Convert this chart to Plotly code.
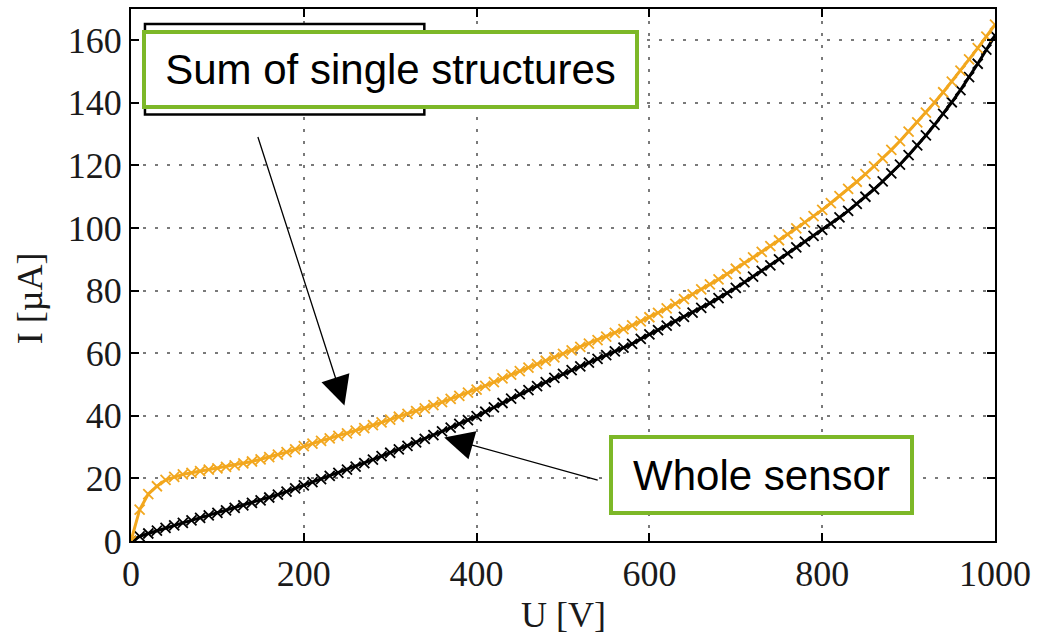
import plotly.graph_objects as go

voltage = list(range(0, 1001, 10))

sum_single = [
    0, 10, 15, 17.5, 19.5, 20.5, 21.3, 21.8, 22.3, 22.8,
    23.2, 23.7, 24.2, 24.8, 25.4, 26.1, 26.8, 27.6, 28.4, 29.3,
    30.3, 31.1, 32.0, 32.8, 33.6, 34.4, 35.3, 36.1, 37.0, 37.9,
    38.8, 39.7, 40.6, 41.5, 42.4, 43.4, 44.4, 45.4, 46.4, 47.4,
    48.4, 49.6, 50.8, 52.0, 53.2, 54.3, 55.4, 56.5, 57.6, 58.7,
    59.8, 60.9, 62.0, 63.1, 64.2, 65.3, 66.5, 67.7, 68.9, 70.2,
    71.5, 72.9, 74.3, 75.8, 77.3, 78.8, 80.4, 82.0, 83.6, 85.3,
    87.0, 88.8, 90.6, 92.4, 94.2, 96.1, 98.0, 99.9, 101.8, 103.8,
    105.8, 108.0, 110.2, 112.5, 114.8, 117.2, 119.7, 122.3, 125.0, 127.8,
    130.8, 133.8, 136.9, 140.1, 143.4, 146.8, 150.3, 153.9, 157.5, 161.2,
    165.0,
]

whole_sensor = [
    0, 1.5, 2.4, 3.3, 4.2, 5.0, 5.8, 6.6, 7.4, 8.2,
    9.0, 9.8, 10.6, 11.4, 12.2, 13.0, 13.9, 14.8, 15.8, 16.8,
    17.8, 18.8, 19.8, 20.8, 21.8, 22.8, 23.8, 24.9, 26.0, 27.1,
    28.2, 29.3, 30.4, 31.5, 32.6, 33.8, 35.0, 36.2, 37.4, 38.6,
    39.9, 41.3, 42.7, 44.1, 45.5, 46.9, 48.2, 49.5, 50.8, 52.1,
    53.4, 54.6, 55.8, 57.0, 58.2, 59.4, 60.6, 61.8, 63.0, 64.6,
    66.0, 67.4, 68.8, 70.2, 71.6, 73.0, 74.5, 76.0, 77.6, 79.2,
    80.9, 82.7, 84.5, 86.3, 88.1, 90.0, 91.9, 93.8, 95.7, 97.5,
    99.4, 101.4, 103.4, 105.5, 107.7, 110.0, 112.4, 114.9, 117.5, 120.3,
    123.3, 126.4, 129.6, 133.0, 136.5, 140.2, 144.1, 148.2, 152.5, 157.0,
    161.5,
]

x_ticks = [0, 200, 400, 600, 800, 1000]
y_ticks = [0, 20, 40, 60, 80, 100, 120, 140, 160]

ORANGE = "#F2A71E"
GREEN = "#7DB828"
SERIF = "Liberation Serif, DejaVu Serif, serif"
SANS = "Liberation Sans, Arial, sans-serif"
TXT = "#1a1a1a"

fig = go.Figure()
fig.add_trace(go.Scatter(
    x=voltage, y=whole_sensor, mode="lines+markers",
    line=dict(color="black", width=3),
    marker=dict(symbol="x-thin-open", size=10, line=dict(color="black", width=1.8)),
    showlegend=False,
))
fig.add_trace(go.Scatter(
    x=voltage, y=sum_single, mode="lines+markers",
    line=dict(color=ORANGE, width=3),
    marker=dict(symbol="x-thin-open", size=10, line=dict(color=ORANGE, width=1.8)),
    showlegend=False,
))

axis_common = dict(
    showline=True, linecolor="black", linewidth=2, mirror="allticks",
    ticks="inside", ticklen=8, tickwidth=1.5, tickcolor="black",
    showgrid=True, gridcolor="#7a7a7a", gridwidth=2, griddash="3px,9px",
    zeroline=False,
    tickfont=dict(family=SERIF, size=36, color=TXT),
)

fig.update_xaxes(range=[0, 1000], tickvals=x_ticks, **axis_common)
fig.update_yaxes(range=[0, 170], tickvals=y_ticks, **axis_common)

W, H = 1038, 638
L, R, T, B = 131, 41, 7, 97
pw, ph = W - L - R, H - T - B

def px2paper(px, py):
    return (px - L) / pw, (H - B - py) / ph

# Old legend frame behind the label
x0, y0 = px2paper(145, 113)
x1, y1 = px2paper(425, 22)
fig.add_shape(type="rect", xref="paper", yref="paper", x0=x0, y0=y0, x1=x1, y1=y1,
              line=dict(color="black", width=2.5), fillcolor="white", layer="above")

annotations = []
# axis titles
ax_x, ax_y = px2paper(565, 615)
annotations.append(dict(xref="paper", yref="paper", x=ax_x, y=ax_y, text="U [V]",
                        xanchor="center", yanchor="middle",
                        showarrow=False, font=dict(family=SERIF, size=36, color=TXT)))
ay_x, ay_y = px2paper(30, 297)
annotations.append(dict(xref="paper", yref="paper", x=ay_x, y=ay_y, text="I [µA]",
                        xanchor="center", yanchor="middle",
                        textangle=-90, showarrow=False,
                        font=dict(family=SERIF, size=36, color=TXT)))

# arrows (head positions in data coords)
annotations.append(dict(x=247, y=43.3, xref="x", yref="y", ax=-87, ay=-270,
                        showarrow=True, arrowhead=2, arrowsize=4.5, arrowwidth=1.3,
                        arrowcolor="black", text="", standoff=0))
annotations.append(dict(x=362.5, y=33.1, xref="x", yref="y", ax=155, ay=43,
                        showarrow=True, arrowhead=2, arrowsize=4.5, arrowwidth=1.3,
                        arrowcolor="black", text="", standoff=0))

# green label boxes
bx, by = px2paper((143 + 640) / 2, (28 + 107) / 2)
annotations.append(dict(xref="paper", yref="paper", x=bx, y=by, xanchor="center", yanchor="middle",
                        text="Sum of single structures", showarrow=False,
                        font=dict(family=SANS, size=42, color="black"),
                        bgcolor="white", bordercolor=GREEN, borderwidth=4, borderpad=8,
                        width=497 - 8 - 16, height=79 - 8 - 16))
wx, wy = px2paper((610 + 915) / 2, (435 + 515) / 2)
annotations.append(dict(xref="paper", yref="paper", x=wx, y=wy, xanchor="center", yanchor="middle",
                        text="Whole sensor", showarrow=False,
                        font=dict(family=SANS, size=42, color="black"),
                        bgcolor="white", bordercolor=GREEN, borderwidth=4, borderpad=8,
                        width=305 - 8 - 16, height=80 - 8 - 16))

fig.update_layout(
    width=W, height=H,
    margin=dict(l=L, r=R, t=T, b=B),
    paper_bgcolor="white", plot_bgcolor="white",
    annotations=annotations,
    showlegend=False,
)

fig.write_html("out.html")
